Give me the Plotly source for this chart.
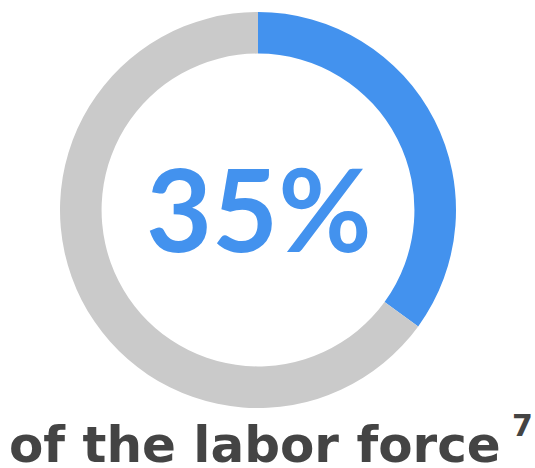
import plotly.graph_objects as go

labels = ["Labor force share", "Rest"]
values = [35, 65]
colors = ["#4392EE", "#CACACA"]
center_label = "35%"
caption = "of the labor force"
footnote = "7"

W, H = 535, 468

fig = go.Figure()

fig.add_trace(go.Pie(
    labels=labels,
    values=values,
    hole=0.79,
    sort=False,
    direction="clockwise",
    rotation=0,
    marker=dict(colors=colors, line=dict(width=0)),
    textinfo="none",
    hoverinfo="label+percent",
    showlegend=False,
    domain=dict(x=[60 / W, 456 / W], y=[1 - 408 / H, 1 - 12 / H]),
))

# big number in the middle of the ring
fig.add_annotation(
    x=259 / W, y=1 - 207 / H, xref="paper", yref="paper",
    text=f"<b>{center_label}</b>", showarrow=False,
    font=dict(family="Lato", size=114, color="#4392EE"),
    xanchor="center", yanchor="middle",
)

# caption under the ring
fig.add_annotation(
    x=7 / W, y=1 - 445 / H, xref="paper", yref="paper",
    text=f"<b>{caption}</b>", showarrow=False,
    font=dict(family="DejaVu Sans", size=50, color="#444444"),
    xanchor="left", yanchor="middle",
)

# footnote mark
fig.add_annotation(
    x=522 / W, y=1 - 425 / H, xref="paper", yref="paper",
    text=f"<b>{footnote}</b>", showarrow=False,
    font=dict(family="DejaVu Sans", size=30, color="#444444"),
    xanchor="center", yanchor="middle",
)

fig.update_layout(
    width=W, height=H,
    margin=dict(l=0, r=0, t=0, b=0),
    paper_bgcolor="white",
    plot_bgcolor="white",
)

fig.write_html("out.html", config={"displayModeBar": False},
               post_script="document.body.style.margin='0';")
